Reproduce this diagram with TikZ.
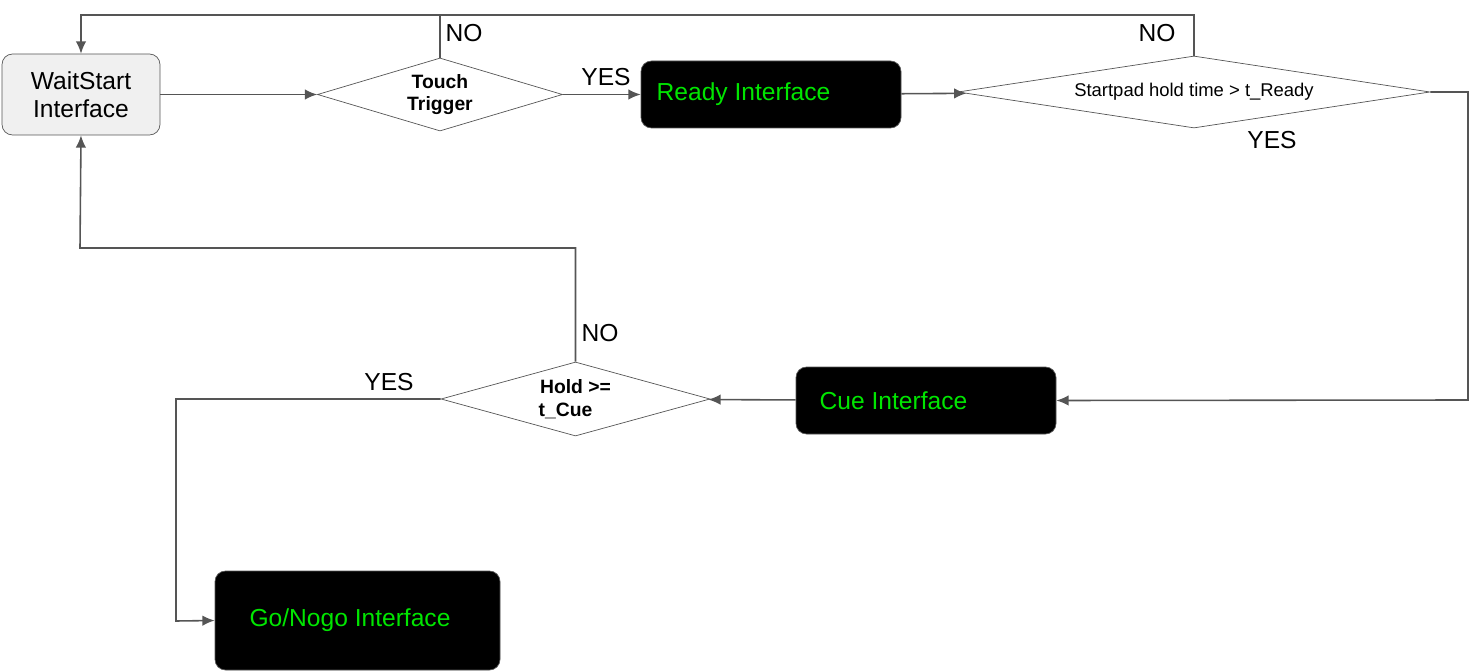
\documentclass[tikz,border=0pt]{standalone}
\usepackage{fontspec}
\setmainfont{Liberation Sans}
\usetikzlibrary{shapes.geometric, arrows.meta, positioning}
\definecolor{edgegray}{RGB}{85,85,85}
\definecolor{scrgreen}{RGB}{0,230,0}
\tikzstyle{screen} = [rectangle, rounded corners=6pt, draw=edgegray, fill=black, text=scrgreen, minimum width=260*0.02cm, minimum height=67*0.02cm, font=\fontsize{14}{16}\selectfont, align=left]
\tikzstyle{start} = [rectangle, rounded corners=6pt, draw=edgegray, fill=gray!12, minimum width=158*0.02cm, minimum height=81*0.02cm, font=\fontsize{14}{16}\selectfont, align=center]
\tikzstyle{decision} = [diamond, aspect=3, draw=edgegray, inner sep=0pt, align=center, font=\bfseries\fontsize{11}{13}\selectfont]
\tikzstyle{arrow} = [edgegray, line width=0.9pt, -{Latex[length=7pt,width=6pt]}]
\tikzstyle{label} = [font=\fontsize{14}{16}\selectfont]

\begin{document}
\begin{tikzpicture}[x=0.02cm, y=-0.02cm]
    \useasboundingbox (0,0) rectangle (1471,672);

    % Screens
    \node (waitstart) [start] at (81,94.5) {WaitStart\\Interface};
    \node (ready) [screen] at (771,94.5) {Ready Interface\hspace*{1.1cm}};
    \node (cue) [screen] at (926,400.5) {Cue Interface\hspace*{1.3cm}};
    \node (gonogo) [screen, minimum width=285*0.02cm, minimum height=99*0.02cm] at (357.5,620.5) {Go/Nogo Interface\hspace*{0.3cm}};

    % Decisions
    \node (touch) [decision, minimum width=245*0.02cm, minimum height=73*0.02cm] at (440,94.5) {Touch\\Trigger};
    \node (startpad) [decision, aspect=6.5, minimum width=472*0.02cm, minimum height=72*0.02cm, font=\fontsize{10.5}{12}\selectfont] at (1194,92) {Startpad hold time > t\_Ready};
    \node (hold) [decision, minimum width=269*0.02cm, minimum height=74*0.02cm] at (575.5,399) {Hold >=\\t\_Cue\hspace*{0.4cm}};

    % Bends
    \coordinate (topleft) at (81,15);
    \coordinate (topmid) at (440,15);
    \coordinate (rightup) at (1468,92);
    \coordinate (rightdown) at (1468,400);
    \coordinate (midup) at (575.5,248);
    \coordinate (midleft) at (80,248);
    \coordinate (lowleft) at (176,399);
    \coordinate (lowdown) at (176,621);

    % ==== Arrows
    \draw [arrow] (waitstart) -- (touch);
    \draw [arrow] (touch) -- (ready);
    \draw [arrow] (ready) -- (startpad);
    \draw [arrow] (touch.north) -- (topmid) -- (topleft) -- (waitstart.north);
    \draw [edgegray, line width=0.9pt] (startpad.north) |- (topmid);
    \draw [arrow] (startpad.east) -- (rightup) -- (rightdown) -- (cue.east);
    \draw [arrow] (cue) -- (hold);
    \draw [arrow] (hold.north) -- (midup) -- (midleft) -- (waitstart.south);
    \draw [arrow] (hold.west) -- (lowleft) -- (lowdown) -- (gonogo.west);

    % Labels
    \node [label] at (464,33) {NO};
    \node [label] at (1157,33) {NO};
    \node [label] at (606,77) {YES};
    \node [label] at (1272,140) {YES};
    \node [label] at (600,333) {NO};
    \node [label] at (389,382) {YES};

\end{tikzpicture}
\end{document}
